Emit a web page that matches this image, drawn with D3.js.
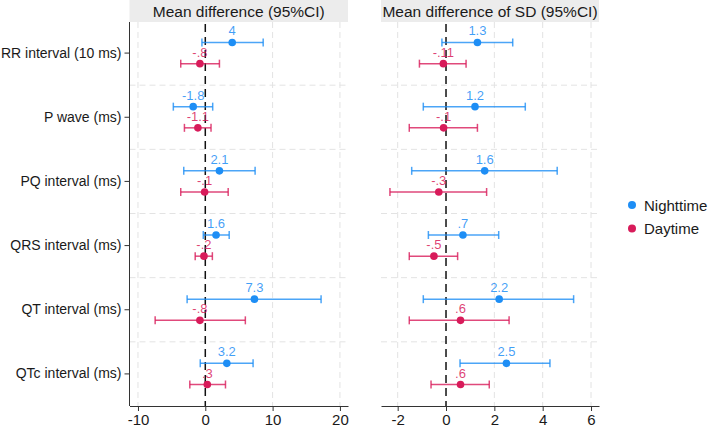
<!DOCTYPE html>
<html>
<head>
<meta charset="utf-8">
<script src="https://cdn.jsdelivr.net/npm/d3@7"></script>
<style>
  body { margin: 0; background: #fff; }
  svg { font-family: "Liberation Sans", Arial, sans-serif; }
  .grid line { stroke: #e3e3e3; stroke-dasharray: 6,4; }
</style>
</head>
<body>
<div class="chart"></div>
<script>
'use strict';
var categories = ['RR interval (10 ms)', 'P wave (ms)', 'PQ interval (ms)', 'QRS interval (ms)', 'QT interval (ms)', 'QTc interval (ms)'];
var groups = ['Nighttime', 'Daytime'];

// mean difference panel
var meanNight = [4, -1.8, 2.1, 1.6, 7.3, 3.2];
var meanNightLo = [-0.5, -4.75, -3.2, -0.3, -2.7, -0.75];
var meanNightHi = [8.6, 1.1, 7.4, 3.55, 17.2, 7.1];
var meanNightLabels = ['4', '-1.8', '2.1', '1.6', '7.3', '3.2'];
var meanDay = [-0.8, -1.1, -0.1, -0.2, -0.8, 0.3];
var meanDayLo = [-3.65, -3.1, -3.65, -1.5, -7.45, -2.3];
var meanDayHi = [2.1, 0.85, 3.4, 1.05, 5.95, 3.0];
var meanDayLabels = ['-.8', '-1.1', '-.1', '-.2', '-.8', '.3'];

// mean difference of SD panel
var sdNight = [1.3, 1.2, 1.6, 0.7, 2.2, 2.5];
var sdNightLo = [-0.17, -0.94, -1.42, -0.73, -0.94, 0.58];
var sdNightHi = [2.76, 3.28, 4.6, 2.18, 5.28, 4.3];
var sdNightLabels = ['1.3', '1.2', '1.6', '.7', '2.2', '2.5'];
var sdDay = [-0.11, -0.1, -0.3, -0.5, 0.6, 0.6];
var sdDayLo = [-1.1, -1.52, -2.32, -1.52, -1.52, -0.62];
var sdDayHi = [0.83, 1.3, 1.68, 0.48, 2.61, 1.79];
var sdDayLabels = ['-.11', '-.1', '-.3', '-.5', '.6', '.6'];

var meanTicks = [-10, 0, 10, 20];
var sdTicks = [-2, 0, 2, 4, 6];

var colors = {Nighttime: '#1e8ef5', Daytime: '#d81b5a'};

var width = 715, height = 429;
var plotTop = 22, plotBottom = 406;

var svg = d3.select('.chart').append('svg')
  .attr('width', width)
  .attr('height', height);

var y = d3.scaleBand()
  .domain(categories)
  .range([plotTop - 1, plotBottom]);

var offset = y.bandwidth() * 0.165;

function rows(vals, lo, hi, labels, group) {
  return categories.map(function(c, i) {
    return {cat: c, v: vals[i], lo: lo[i], hi: hi[i], label: labels[i], group: group};
  });
}

function drawPanel(opts) {
  var x = d3.scaleLinear().domain(opts.domain).range(opts.range);
  var g = svg.append('g');

  // strip header
  g.append('rect')
    .attr('x', opts.range[0])
    .attr('y', 0)
    .attr('width', opts.range[1] - opts.range[0])
    .attr('height', plotTop)
    .attr('fill', '#ececec');
  g.append('text')
    .attr('x', (opts.range[0] + opts.range[1]) / 2)
    .attr('y', 16.5)
    .attr('text-anchor', 'middle')
    .attr('font-size', 15.5)
    .attr('fill', '#1a1a1a')
    .text(opts.title);

  // grid
  var grid = g.append('g').attr('class', 'grid');
  grid.selectAll('.vg')
    .data(opts.ticks.filter(function(t) { return t !== 0; }))
    .enter().append('line')
    .attr('x1', function(d) { return x(d); })
    .attr('x2', function(d) { return x(d); })
    .attr('y1', plotTop)
    .attr('y2', plotBottom);
  grid.selectAll('.hg')
    .data(categories.slice(1))
    .enter().append('line')
    .attr('x1', opts.range[0])
    .attr('x2', opts.range[1])
    .attr('y1', function(d) { return y(d); })
    .attr('y2', function(d) { return y(d); });

  // zero line
  g.append('line')
    .attr('x1', x(0)).attr('x2', x(0))
    .attr('y1', plotTop + 2).attr('y2', plotBottom)
    .attr('stroke', '#111')
    .attr('stroke-width', 1.5)
    .attr('stroke-dasharray', '8,5');

  // bottom axis
  var xAxis = g.append('g')
    .attr('transform', 'translate(0,' + plotBottom + ')')
    .call(d3.axisBottom(x).tickValues(opts.ticks)
      .tickFormat(function(d) { return String(d); })
      .tickSize(5).tickPadding(3).tickSizeOuter(0));
  xAxis.select('.domain').attr('stroke', '#333');
  xAxis.selectAll('.tick line').attr('stroke', '#333');
  xAxis.selectAll('text').attr('font-size', 15).attr('fill', '#1a1a1a')
    .attr('font-family', '"Liberation Sans", Arial, sans-serif');

  var data = rows(opts.night, opts.nightLo, opts.nightHi, opts.nightLabels, 'Nighttime')
    .concat(rows(opts.day, opts.dayLo, opts.dayHi, opts.dayLabels, 'Daytime'));

  function yPos(d) {
    var c = y(d.cat) + y.bandwidth() / 2;
    return d.group === 'Nighttime' ? c - offset : c + offset;
  }

  var marks = g.selectAll('.mark')
    .data(data)
    .enter().append('g')
    .attr('class', 'mark')
    .attr('stroke', function(d) { return colors[d.group]; })
    .attr('fill', function(d) { return colors[d.group]; });

  marks.append('line')
    .attr('x1', function(d) { return x(d.lo); })
    .attr('x2', function(d) { return x(d.hi); })
    .attr('y1', yPos).attr('y2', yPos)
    .attr('stroke-width', 1.5)
    .attr('stroke-opacity', 0.8);
  marks.append('line')
    .attr('x1', function(d) { return x(d.lo); })
    .attr('x2', function(d) { return x(d.lo); })
    .attr('y1', function(d) { return yPos(d) - 4; })
    .attr('y2', function(d) { return yPos(d) + 4; })
    .attr('stroke-width', 1.5)
    .attr('stroke-opacity', 0.8);
  marks.append('line')
    .attr('x1', function(d) { return x(d.hi); })
    .attr('x2', function(d) { return x(d.hi); })
    .attr('y1', function(d) { return yPos(d) - 4; })
    .attr('y2', function(d) { return yPos(d) + 4; })
    .attr('stroke-width', 1.5)
    .attr('stroke-opacity', 0.8);
  marks.append('circle')
    .attr('cx', function(d) { return x(d.v); })
    .attr('cy', yPos)
    .attr('r', 3.8)
    .attr('stroke', 'none');
  marks.append('text')
    .attr('x', function(d) { return x(d.v); })
    .attr('y', function(d) { return yPos(d) - 7; })
    .attr('text-anchor', 'middle')
    .attr('font-size', 13)
    .attr('stroke', 'none')
    .attr('fill-opacity', 0.85)
    .text(function(d) { return d.label; });

  return x;
}

drawPanel({
  title: 'Mean difference (95%CI)',
  domain: [-11.26, 21.2], range: [129.5, 348], ticks: meanTicks,
  night: meanNight, nightLo: meanNightLo, nightHi: meanNightHi, nightLabels: meanNightLabels,
  day: meanDay, dayLo: meanDayLo, dayHi: meanDayHi, dayLabels: meanDayLabels
});

drawPanel({
  title: 'Mean difference of SD (95%CI)',
  domain: [-2.69, 6.33], range: [381, 599], ticks: sdTicks,
  night: sdNight, nightLo: sdNightLo, nightHi: sdNightHi, nightLabels: sdNightLabels,
  day: sdDay, dayLo: sdDayLo, dayHi: sdDayHi, dayLabels: sdDayLabels
});

// left category axis
var yAxis = svg.append('g')
  .attr('transform', 'translate(129.5,0)')
  .call(d3.axisLeft(y).tickSize(5).tickPadding(3).tickSizeOuter(0));
yAxis.select('.domain').attr('d', 'M0,' + plotTop + 'V' + plotBottom).attr('stroke', '#333');
yAxis.selectAll('.tick line').attr('stroke', '#333');
yAxis.selectAll('text').attr('font-size', 14).attr('fill', '#1a1a1a')
  .attr('font-family', '"Liberation Sans", Arial, sans-serif');

// legend
var legend = svg.append('g').attr('transform', 'translate(632,205)');
legend.selectAll('.item')
  .data(groups)
  .enter().append('g')
  .attr('transform', function(d, i) { return 'translate(0,' + i * 23.5 + ')'; })
  .each(function(d) {
    var item = d3.select(this);
    item.append('circle').attr('r', 4).attr('fill', colors[d]);
    item.append('text').attr('x', 12).attr('y', 5.5)
      .attr('font-size', 15).attr('fill', '#1a1a1a').text(d);
  });
</script>
</body>
</html>
